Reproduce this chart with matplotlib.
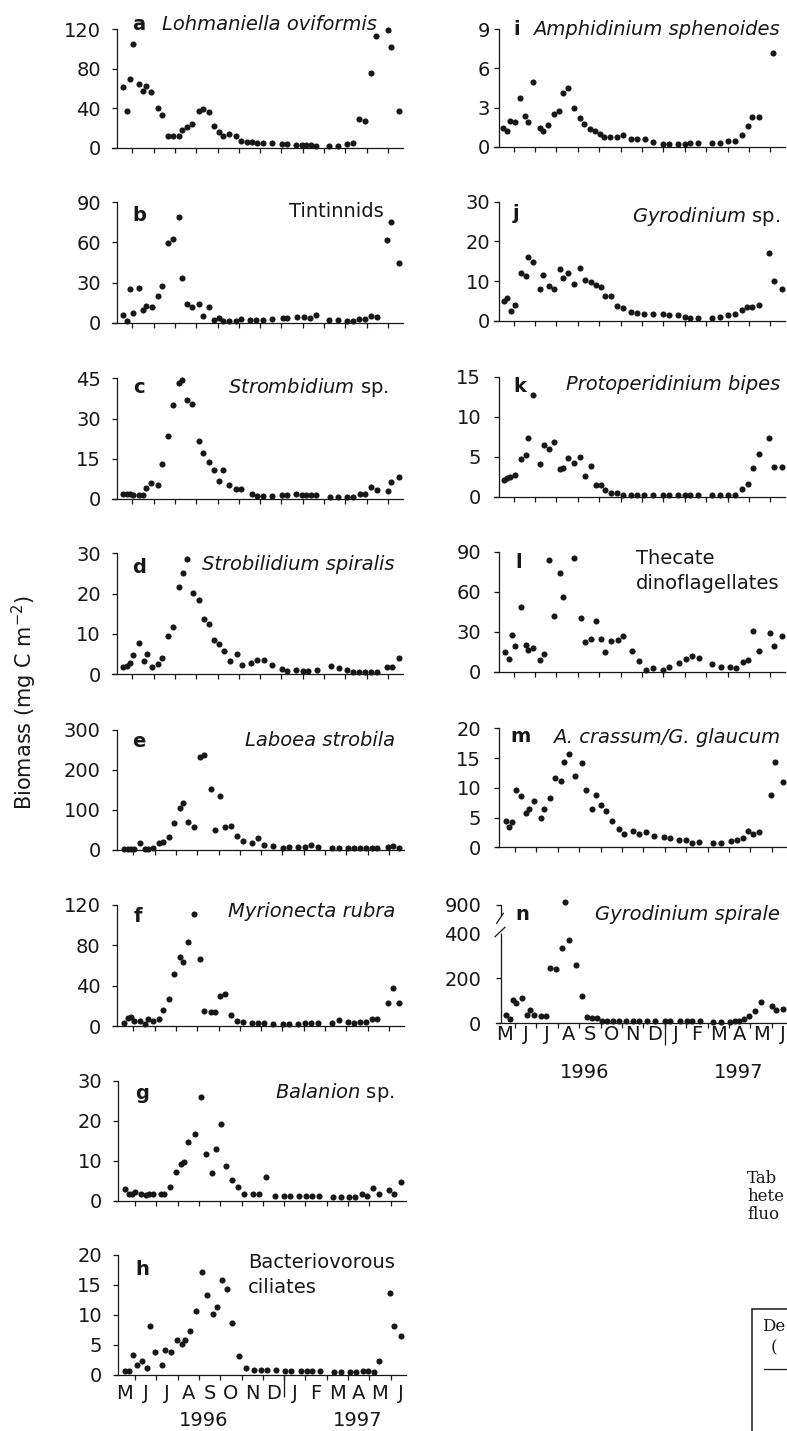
import numpy as np
import matplotlib
matplotlib.use("Agg")
import matplotlib.pyplot as plt
from matplotlib.lines import Line2D
from matplotlib.patches import Rectangle
from matplotlib.transforms import IdentityTransform

# Sampling time in months since 1 May 1996; biomass in mg C m^-2
a_month = [0.56, 0.73, 0.88, 1.02, 1.30, 1.52, 1.64, 1.88, 2.22, 2.39, 2.66, 2.93, 3.19, 3.32, 3.55, 3.82,
           4.13, 4.33, 4.62, 4.83, 5.07, 5.24, 5.54, 5.87, 6.12, 6.40, 6.63, 6.87, 7.15, 7.54, 8.04, 8.28,
           8.67, 8.95, 9.15, 9.37, 9.62, 10.25, 10.64, 11.06, 11.38, 11.66, 11.92, 12.19, 12.44, 12.99, 13.13, 13.53]
a_biomass = [61.2, 37.5, 69.6, 105.1, 64.6, 57.8, 62.5, 56.1, 40.6, 33.1, 12.2, 11.8, 11.5, 17.9, 20.6, 24.3,
             36.8, 39.2, 36.2, 22.3, 15.5, 11.8, 14.2, 11.5, 7.1, 6.1, 5.7, 5.1, 4.4, 4.4, 3.4, 3.4,
             3.0, 2.7, 2.4, 2.4, 2.0, 1.7, 2.0, 4.1, 5.1, 29.1, 27.0, 76.1, 113.2, 119.3, 102.4, 37.5]

b_month = [0.58, 0.73, 0.88, 1.03, 1.31, 1.52, 1.64, 1.91, 2.22, 2.39, 2.66, 2.93, 3.19, 3.33, 3.55, 3.82,
           4.13, 4.33, 4.62, 4.83, 5.07, 5.24, 5.54, 5.87, 6.12, 6.52, 6.81, 7.15, 7.54, 8.06, 8.28, 8.72,
           9.06, 9.34, 9.62, 10.25, 10.64, 11.06, 11.38, 11.66, 11.92, 12.19, 12.47, 12.97, 13.14, 13.52]
b_biomass = [5.5, 1.5, 25.4, 7.5, 25.9, 9.5, 12.7, 11.7, 20.2, 27.4, 59.3, 62.3, 79.0, 33.7, 14.0, 12.0,
             14.0, 5.0, 11.5, 2.0, 3.2, 1.0, 1.0, 1.5, 3.0, 2.0, 1.7, 2.2, 2.5, 3.2, 3.2, 4.5,
             4.5, 3.7, 5.7, 2.0, 2.0, 1.5, 1.5, 2.7, 3.0, 5.0, 4.0, 61.8, 75.5, 44.4]

c_month = [0.56, 0.73, 0.88, 1.02, 1.30, 1.52, 1.64, 1.88, 2.22, 2.39, 2.66, 2.93, 3.19, 3.32, 3.55, 3.82,
           4.13, 4.33, 4.62, 4.83, 5.07, 5.27, 5.54, 5.87, 6.12, 6.60, 6.84, 7.15, 7.54, 8.01, 8.28, 8.67,
           8.95, 9.15, 9.37, 9.62, 10.28, 10.64, 11.06, 11.38, 11.69, 11.92, 12.19, 12.47, 12.99, 13.14, 13.52]
c_biomass = [1.7, 1.7, 1.9, 1.4, 1.4, 1.5, 4.1, 6.0, 5.1, 12.9, 23.6, 35.2, 43.1, 44.4, 36.9, 35.6,
             21.8, 17.2, 13.7, 10.7, 6.6, 10.9, 5.2, 3.9, 3.9, 1.7, 1.2, 1.2, 1.2, 1.4, 1.6, 1.7,
             1.5, 1.5, 1.6, 1.6, 0.9, 0.9, 0.9, 0.9, 1.9, 1.7, 4.4, 3.4, 2.9, 6.5, 8.3]

d_month = [0.56, 0.73, 0.88, 1.05, 1.33, 1.55, 1.67, 1.91, 2.22, 2.41, 2.66, 2.93, 3.19, 3.36, 3.55, 3.83,
           4.15, 4.37, 4.62, 4.85, 5.09, 5.30, 5.59, 5.90, 6.16, 6.59, 6.87, 7.18, 7.56, 8.04, 8.28, 8.68,
           9.00, 9.26, 9.65, 10.31, 10.70, 11.09, 11.38, 11.66, 11.92, 12.19, 12.47, 12.94, 13.18, 13.54]
d_biomass = [1.8, 2.0, 2.7, 4.7, 7.6, 3.3, 5.0, 1.7, 2.6, 3.9, 9.5, 11.7, 21.6, 25.0, 28.5, 20.1,
             18.4, 13.6, 12.4, 8.5, 7.5, 5.8, 3.2, 4.9, 2.2, 2.7, 3.5, 3.6, 2.2, 1.3, 0.8, 0.9,
             0.7, 0.7, 1.0, 2.0, 1.4, 1.0, 0.6, 0.5, 0.5, 0.5, 0.5, 1.8, 1.7, 3.9]

e_month = [0.56, 0.73, 0.88, 1.03, 1.31, 1.55, 1.67, 1.91, 2.22, 2.41, 2.67, 2.91, 3.19, 3.33, 3.55, 3.85,
           4.13, 4.33, 4.63, 4.83, 5.07, 5.30, 5.57, 5.88, 6.16, 6.59, 6.87, 7.15, 7.57, 8.04, 8.32, 8.75,
           9.06, 9.33, 9.69, 10.31, 10.66, 11.09, 11.36, 11.64, 11.92, 12.19, 12.46, 12.97, 13.18, 13.49]
e_biomass = [1.7, 1.7, 1.7, 1.7, 16.7, 1.7, 1.7, 5.8, 16.7, 19.2, 31.7, 68.3, 105.0, 116.7, 70.8, 56.7,
             232.5, 237.5, 151.7, 50.0, 135.8, 58.3, 60.8, 35.8, 21.7, 18.3, 30.0, 12.5, 10.8, 5.0, 8.3, 8.3,
             8.3, 11.7, 8.3, 5.0, 5.0, 5.0, 5.0, 5.0, 5.0, 5.0, 5.0, 6.7, 10.0, 6.0]

f_month = [0.56, 0.73, 0.88, 1.03, 1.31, 1.55, 1.67, 1.91, 2.22, 2.41, 2.67, 2.91, 3.19, 3.33, 3.55, 3.85,
           4.13, 4.33, 4.63, 4.83, 5.07, 5.30, 5.57, 5.88, 6.16, 6.59, 6.87, 7.15, 7.57, 8.04, 8.32, 8.75,
           9.06, 9.33, 9.69, 10.31, 10.67, 11.09, 11.36, 11.64, 11.92, 12.19, 12.46, 12.97, 13.18, 13.49]
f_biomass = [3.3, 7.6, 9.3, 5.3, 5.0, 2.0, 6.6, 4.6, 6.6, 15.5, 26.4, 51.9, 68.4, 63.5, 83.3, 111.4,
             66.1, 14.9, 14.2, 13.9, 29.8, 31.4, 10.9, 4.6, 3.6, 3.3, 3.3, 3.0, 2.3, 2.0, 2.0, 2.0,
             3.0, 3.3, 2.6, 2.6, 6.0, 3.6, 3.0, 3.6, 4.0, 7.3, 6.6, 22.5, 38.0, 22.5]

g_month = [0.55, 0.70, 0.86, 1.00, 1.27, 1.50, 1.64, 1.86, 2.21, 2.36, 2.64, 2.91, 3.14, 3.30, 3.50, 3.82,
           4.10, 4.32, 4.60, 4.80, 5.05, 5.26, 5.54, 5.85, 6.13, 6.56, 6.84, 7.14, 7.56, 8.00, 8.28, 8.72,
           9.03, 9.29, 9.64, 10.28, 10.66, 11.06, 11.34, 11.64, 11.91, 12.19, 12.46, 12.94, 13.16, 13.49]
g_biomass = [3.0, 1.6, 1.8, 2.3, 1.7, 1.5, 1.7, 1.6, 1.7, 1.7, 3.5, 7.2, 9.3, 9.8, 14.6, 16.8,
             26.0, 11.8, 6.9, 13.0, 19.2, 8.8, 5.3, 3.5, 1.7, 1.7, 1.6, 5.9, 1.3, 1.2, 1.2, 1.2,
             1.2, 1.2, 1.2, 0.9, 0.9, 0.9, 1.0, 1.7, 1.2, 3.2, 1.8, 2.7, 1.6, 4.7]

h_month = [0.55, 0.70, 0.89, 1.08, 1.34, 1.55, 1.70, 1.92, 2.28, 2.41, 2.67, 2.96, 3.21, 3.36, 3.58, 3.86,
           4.13, 4.37, 4.65, 4.85, 5.10, 5.30, 5.57, 5.90, 6.20, 6.60, 6.90, 7.18, 7.60, 8.06, 8.32, 8.78,
           9.08, 9.33, 9.69, 10.34, 10.69, 11.09, 11.36, 11.72, 11.96, 12.22, 12.47, 12.97, 13.18, 13.49]
h_biomass = [0.6, 0.7, 3.3, 1.7, 2.4, 1.2, 8.1, 3.8, 1.7, 4.2, 3.8, 5.9, 5.1, 5.9, 7.4, 10.6,
             17.1, 13.3, 10.1, 11.4, 15.9, 14.4, 8.7, 3.1, 1.2, 0.9, 0.9, 0.9, 0.8, 0.7, 0.7, 0.7,
             0.7, 0.7, 0.7, 0.55, 0.55, 0.55, 0.55, 0.6, 0.6, 0.55, 2.4, 13.6, 8.2, 6.5]

i_month = [0.53, 0.68, 0.84, 1.07, 1.30, 1.54, 1.66, 1.90, 2.24, 2.39, 2.63, 2.89, 3.14, 3.33, 3.53, 3.83,
           4.11, 4.31, 4.58, 4.81, 5.04, 5.25, 5.51, 5.85, 6.10, 6.49, 6.76, 7.15, 7.50, 8.00, 8.28, 8.67,
           9.01, 9.25, 9.61, 10.26, 10.65, 11.04, 11.35, 11.66, 11.94, 12.16, 12.47, 13.14]
i_biomass = [1.41, 1.23, 1.99, 1.92, 3.76, 2.38, 1.89, 4.94, 1.41, 1.23, 1.66, 2.48, 2.74, 4.09, 4.47, 2.99,
             2.20, 1.74, 1.33, 1.20, 0.97, 0.72, 0.72, 0.72, 0.90, 0.61, 0.59, 0.61, 0.36, 0.20, 0.20, 0.20,
             0.23, 0.26, 0.26, 0.31, 0.31, 0.41, 0.46, 0.90, 1.61, 2.25, 2.30, 7.16]

j_month = [0.56, 0.68, 0.88, 1.07, 1.34, 1.57, 1.69, 1.90, 2.24, 2.39, 2.66, 2.89, 3.17, 3.33, 3.53, 3.83,
           4.12, 4.33, 4.61, 4.86, 5.07, 5.28, 5.54, 5.85, 6.10, 6.49, 6.76, 7.11, 7.50, 8.00, 8.28, 8.67,
           9.01, 9.25, 9.61, 10.26, 10.65, 11.04, 11.35, 11.66, 11.90, 12.16, 12.47, 12.96, 13.17, 13.56]
j_biomass = [5.0, 5.8, 2.5, 3.9, 11.9, 11.3, 16.1, 14.7, 8.1, 11.6, 8.8, 8.1, 13.1, 10.7, 11.9, 9.2,
             13.4, 10.2, 9.7, 9.0, 8.4, 6.2, 6.2, 3.8, 3.2, 2.1, 2.0, 1.7, 1.7, 1.8, 1.4, 1.4,
             1.0, 0.8, 0.8, 0.8, 1.0, 1.4, 1.6, 2.7, 3.4, 3.5, 3.9, 17.0, 10.0, 7.9]

k_month = [0.56, 0.68, 0.84, 1.07, 1.34, 1.57, 1.69, 1.90, 2.24, 2.43, 2.66, 2.89, 3.17, 3.33, 3.53, 3.83,
           4.12, 4.34, 4.62, 4.86, 5.09, 5.28, 5.54, 5.85, 6.10, 6.49, 6.76, 7.11, 7.50, 8.00, 8.28, 8.67,
           9.01, 9.25, 9.61, 10.26, 10.65, 11.04, 11.35, 11.66, 11.94, 12.18, 12.47, 12.96, 13.17, 13.56]
k_biomass = [2.1, 2.3, 2.5, 2.7, 4.7, 5.2, 7.4, 12.7, 4.1, 6.5, 6.0, 6.8, 3.4, 3.6, 4.9, 4.2,
             5.0, 2.6, 3.8, 1.5, 1.5, 0.8, 0.5, 0.5, 0.2, 0.2, 0.2, 0.2, 0.2, 0.2, 0.2, 0.2,
             0.2, 0.2, 0.2, 0.2, 0.2, 0.2, 0.2, 0.9, 1.6, 3.6, 5.3, 7.4, 3.75, 3.7]

l_month = [0.60, 0.79, 0.91, 1.07, 1.34, 1.57, 1.69, 1.93, 2.24, 2.43, 2.66, 2.91, 3.17, 3.33, 3.83, 4.14,
           4.34, 4.62, 4.84, 5.09, 5.28, 5.54, 5.87, 6.13, 6.55, 6.86, 7.18, 7.53, 8.00, 8.28, 8.73, 9.06,
           9.36, 9.67, 10.29, 10.68, 11.12, 11.40, 11.74, 11.97, 12.21, 12.47, 12.99, 13.19, 13.56]
l_biomass = [15.0, 9.2, 27.5, 19.2, 48.2, 20.0, 16.2, 17.5, 8.8, 13.2, 83.8, 42.0, 73.8, 55.8, 85.5, 40.0,
             22.5, 24.5, 38.0, 24.8, 15.0, 23.2, 23.8, 26.8, 15.8, 8.0, 1.2, 2.5, 1.2, 3.8, 6.8, 9.5,
             11.8, 10.0, 5.5, 3.8, 3.8, 2.5, 7.5, 8.8, 30.8, 15.8, 28.8, 19.2, 27.0]

m_month = [0.58, 0.74, 0.88, 1.03, 1.28, 1.51, 1.67, 1.89, 2.20, 2.37, 2.64, 2.87, 3.13, 3.29, 3.52, 3.80,
           4.12, 4.32, 4.58, 4.79, 5.03, 5.25, 5.52, 5.86, 6.11, 6.53, 6.81, 7.12, 7.51, 7.98, 8.24, 8.68,
           8.99, 9.29, 9.61, 10.27, 10.63, 11.08, 11.36, 11.67, 11.90, 12.14, 12.42, 12.95, 13.15, 13.54]
m_biomass = [4.4, 3.4, 4.3, 9.7, 8.7, 5.7, 6.5, 7.7, 5.0, 6.4, 8.3, 11.6, 11.1, 14.4, 15.7, 11.9,
             14.2, 9.7, 6.4, 8.8, 7.1, 6.1, 4.4, 3.1, 2.2, 2.7, 2.2, 2.6, 1.9, 1.7, 1.6, 1.3,
             1.2, 0.8, 0.9, 0.7, 0.8, 1.1, 1.3, 1.6, 2.8, 2.3, 2.5, 8.8, 14.4, 10.9]

n_month = [0.58, 0.77, 0.89, 1.05, 1.31, 1.55, 1.70, 1.89, 2.20, 2.43, 2.64, 2.90, 3.18, 3.34, 3.52, 3.84,
           4.12, 4.35, 4.58, 4.82, 5.05, 5.28, 5.60, 5.86, 6.17, 6.53, 6.81, 7.15, 7.54, 8.01, 8.24, 8.71,
           9.02, 9.29, 9.65, 10.27, 10.63, 11.05, 11.28, 11.47, 11.70, 11.94, 12.22, 12.48, 12.99, 13.20, 13.54]
n_biomass = [37, 19, 104, 92, 111, 37, 59, 37, 34, 34, 247, 243, 336, 950, 370, 258,
             121, 30, 25, 25, 12, 12, 12, 12, 12, 10, 10, 9, 9, 9, 9, 9,
             9, 9, 9, 7, 7, 7, 9, 10, 18, 33, 56, 96, 77, 59, 64]

MONTH_LETTERS = ["M", "J", "J", "A", "S", "O", "N", "D", "J", "F", "M", "A", "M", "J"]
YEAR_LABELS = ["1996", "1997"]
YEAR_AT = [4.24, 11.44]

# ---------------------------------------------------------------- styling
W, H, DPI = 787, 1431, 100
INK = "#171717"
FS = 14

plt.rcParams.update({
    "font.family": ["DejaVu Sans"],
    "font.size": FS,
    "mathtext.fontset": "dejavusans",
    "axes.linewidth": 0.9,
    "axes.edgecolor": INK,
})

fig = plt.figure(figsize=(W / DPI, H / DPI), dpi=DPI)
fig.patch.set_facecolor("white")


def fx(px):
    return px / W


def fy(py):
    return 1.0 - py / H


def fig_text(x, y, s, **kw):
    kw.setdefault("color", INK)
    return fig.text(fx(x), fy(y), s, **kw)


# broken y axis for the Gyrodinium spirale panel
BREAK_AT, SQUEEZE = 400.0, 0.2516


def squeeze(y):
    y = np.asarray(y, float)
    return np.where(y <= BREAK_AT, y, BREAK_AT + (y - BREAK_AT) * SQUEEZE)


def unsqueeze(y):
    y = np.asarray(y, float)
    return np.where(y <= BREAK_AT, y, BREAK_AT + (y - BREAK_AT) / SQUEEZE)


STEP = {0: 21.3, 1: 21.4}      # pixels per month in each column
XLO = {0: 0.05, 1: 0.09}
XHI = 13.71

panels = [
    dict(tag="a", t=a_month, v=a_biomass, ticks=[0, 40, 80, 120], col=0, top=29.3, zero=147.7, jun1=132.3,
         spine=117.0, pad=8.0, name=["Lohmaniella oviformis"], italic=True, name_x=162, ha="left",
         name_y=[30.5], tag_xy=(132, 30.5)),
    dict(tag="b", t=b_month, v=b_biomass, ticks=[0, 30, 60, 90], col=0, top=202.3, zero=322.7, jun1=132.3,
         spine=117.0, pad=8.0, name=["Tintinnids"], italic=False, name_x=383.5, ha="right",
         name_y=[217.3], tag_xy=(132, 221)),
    dict(tag="c", t=c_month, v=c_biomass, ticks=[0, 15, 30, 45], col=0, top=378.3, zero=499.0, jun1=132.3,
         spine=117.0, pad=8.0, name=[r"$\mathit{Strombidium}$ sp."], italic=False, name_x=388.5, ha="right",
         name_y=[393.3], tag_xy=(133, 393.3)),
    dict(tag="d", t=d_month, v=d_biomass, ticks=[0, 10, 20, 30], col=0, top=553.3, zero=674.0, jun1=132.3,
         spine=117.0, pad=8.0, name=["Strobilidium spiralis"], italic=True, name_x=395, ha="right",
         name_y=[570.5], tag_xy=(132, 572.7)),
    dict(tag="e", t=e_month, v=e_biomass, ticks=[0, 100, 200, 300], col=0, top=730.0, zero=850.0, jun1=133.3,
         spine=116.7, pad=8.0, name=["Laboea strobila"], italic=True, name_x=395, ha="right",
         name_y=[745.5], tag_xy=(132.3, 746.7)),
    dict(tag="f", t=f_month, v=f_biomass, ticks=[0, 40, 80, 120], col=0, top=905.0, zero=1026.0, jun1=133.3,
         spine=116.7, pad=8.0, name=["Myrionecta rubra"], italic=True, name_x=395, ha="right",
         name_y=[917.0], tag_xy=(133.3, 921.7)),
    dict(tag="g", t=g_month, v=g_biomass, ticks=[0, 10, 20, 30], col=0, top=1080.7, zero=1200.7, jun1=135.0,
         spine=118.3, pad=8.0, name=[r"$\mathit{Balanion}$ sp."], italic=False, name_x=395, ha="right",
         name_y=[1098.3], tag_xy=(135, 1099)),
    dict(tag="h", t=h_month, v=h_biomass, ticks=[0, 5, 10, 15, 20], col=0, top=1255.0, zero=1375.0, jun1=135.0,
         spine=118.3, pad=8.0, name=["Bacteriovorous", "ciliates"], italic=False, name_x=248, ha="left",
         name_y=[1268.3, 1293.3], tag_xy=(135, 1275), bottom=True, mpad=6.2, year_off=45.0),
    dict(tag="i", t=i_month, v=i_biomass, ticks=[0, 3, 6, 9], col=1, top=29.3, zero=146.7, jun1=513.5,
         spine=499.0, pad=2.8, name=["Amphidinium sphenoides"], italic=True, name_x=780, ha="right",
         name_y=[35.0], tag_xy=(513, 35)),
    dict(tag="j", t=j_month, v=j_biomass, ticks=[0, 10, 20, 30], col=1, top=201.7, zero=320.7, jun1=513.5,
         spine=499.0, pad=2.8, name=[r"$\mathit{Gyrodinium}$ sp."], italic=False, name_x=780, ha="right",
         name_y=[222.5], tag_xy=(513, 219)),
    dict(tag="k", t=k_month, v=k_biomass, ticks=[0, 5, 10, 15], col=1, top=376.7, zero=496.7, jun1=513.5,
         spine=499.0, pad=9.3, name=["Protoperidinium bipes"], italic=True, name_x=780, ha="right",
         name_y=[390.5], tag_xy=(513, 391.5)),
    dict(tag="l", t=l_month, v=l_biomass, ticks=[0, 30, 60, 90], col=1, top=551.7, zero=671.7, jun1=513.5,
         spine=499.0, pad=9.3, name=["Thecate", "dinoflagellates"], italic=False, name_x=636, ha="left",
         name_y=[564.0, 589.3], tag_xy=(515, 568)),
    dict(tag="m", t=m_month, v=m_biomass, ticks=[0, 5, 10, 15, 20], col=1, top=728.3, zero=847.3, jun1=515.0,
         spine=499.0, pad=9.3, name=["A. crassum/G. glaucum"], italic=True, name_x=780, ha="right",
         name_y=[743.3], tag_xy=(510, 742)),
    dict(tag="n", t=n_month, v=n_biomass, ticks=[0, 200, 400, 900], col=1, top=905.0, zero=1023.3, jun1=515.0,
         spine=501.0, pad=10.5, name=["Gyrodinium spirale"], italic=True, name_x=780, ha="right",
         name_y=[920.0], tag_xy=(515, 920), bottom=True, mpad=1.4, year_off=49.7),
]

for p in panels:
    col = p["col"]
    s = STEP[col]
    xlo = XLO[col]
    left_px = p["jun1"] - (1 - xlo) * s
    right_px = p["jun1"] + (XHI - 1) * s
    height_px = p["zero"] - p["top"]
    ax = fig.add_axes([fx(left_px), fy(p["zero"]), (right_px - left_px) / W, height_px / H])
    ax.set_facecolor("none")

    broken = p["tag"] == "n"
    if broken:
        ax.set_yscale("function", functions=(squeeze, unsqueeze))
    ax.set_xlim(xlo, XHI)
    ax.set_ylim(0, p["ticks"][-1])

    ax.plot(p["t"], p["v"], "o", ms=4.4, mfc=INK, mec=INK, mew=0, clip_on=False, zorder=4)

    spine_m = 1 + (p["spine"] - p["jun1"]) / s
    ax.spines["left"].set_position(("data", spine_m))
    for side in ("top", "right"):
        ax.spines[side].set_visible(False)

    ax.set_xticks(np.arange(1, 14))
    ax.tick_params(axis="x", which="major", direction="out", length=3.8, width=0.9,
                   color=INK, labelbottom=False)
    ax.set_yticks(p["ticks"])
    ax.set_yticklabels([str(t) for t in p["ticks"]])
    ax.tick_params(axis="y", which="major", direction="out", length=3.6, width=0.9,
                   color=INK, labelcolor=INK, pad=p["pad"], labelsize=FS)
    ax.yaxis.set_minor_locator(matplotlib.ticker.NullLocator())

    if p.get("bottom"):
        ax.set_xticks(np.arange(14) + 0.5, minor=True)
        ax.set_xticklabels(MONTH_LETTERS, minor=True)
        ax.tick_params(axis="x", which="minor", length=0, pad=p["mpad"], labelsize=FS,
                       labelcolor=INK, labelbottom=True)
        # year divider between December and January
        ax.plot([8, 8], [0, -22 / height_px], transform=ax.get_xaxis_transform(),
                color=INK, lw=0.9, clip_on=False, solid_capstyle="butt")
        for yr, xm in zip(YEAR_LABELS, YEAR_AT):
            ax.text(xm, -p["year_off"] / height_px, yr, transform=ax.get_xaxis_transform(),
                    ha="center", va="center", fontsize=FS, color=INK)

    if broken:
        ax.spines["left"].set_visible(False)
        ax.yaxis.get_major_ticks()[2].tick1line.set_visible(False)
        ax.plot([spine_m, spine_m], [0, BREAK_AT], color=INK, lw=0.9, clip_on=False,
                solid_capstyle="butt", zorder=2.5)
        x0, y_top = ax.transData.transform((spine_m, 900))
        _, y_brk = ax.transData.transform((spine_m, BREAK_AT))
        marks = [((x0, y_top), (x0, y_top - 10)),
                 ((x0 + 2.3, y_top - 8.3), (x0 - 4.3, y_top - 18.3)),
                 ((x0 + 4.0, y_brk + 6.0), (x0 - 6.0, y_brk - 3.4))]
        for (xa, ya), (xb, yb) in marks:
            fig.add_artist(Line2D([xa, xb], [ya, yb], transform=IdentityTransform(),
                                  color=INK, lw=0.9))

    # panel letter and taxon name
    tx, ty = p["tag_xy"]
    fig_text(tx, ty, p["tag"], fontsize=FS, fontweight="bold", ha="left", va="baseline")
    for line, yb in zip(p["name"], p["name_y"]):
        fig_text(p["name_x"], yb, line, fontsize=FS, ha=p["ha"], va="baseline",
                 style="italic" if p["italic"] else "normal")

# shared y-axis title
fig_text(24, 702, r"Biomass (mg C m$^{-2}$)", rotation=90, ha="center", va="center", fontsize=15)

# neighbouring table caption at the page edge
for word, yb in zip(["Tab", "hete", "fluo"], [1183.3, 1200.7, 1219.0]):
    fig_text(747, yb, word, family="DejaVu Serif", fontsize=12, ha="left", va="baseline")
fig.add_artist(Rectangle((fx(752), fy(1470)), (820 - 752) / W, (1470 - 1309) / H,
                         transform=fig.transFigure, fill=False, ec=INK, lw=1.1))
fig_text(762, 1331, "De", family="DejaVu Serif", fontsize=12, ha="left", va="baseline")
fig_text(771, 1352, "(", family="DejaVu Serif", fontsize=12, ha="left", va="baseline")
fig.add_artist(Line2D([fx(764), fx(820)], [fy(1369), fy(1369)], transform=fig.transFigure,
                      color=INK, lw=0.9))

fig.savefig("out.png", dpi=DPI, facecolor="white")
